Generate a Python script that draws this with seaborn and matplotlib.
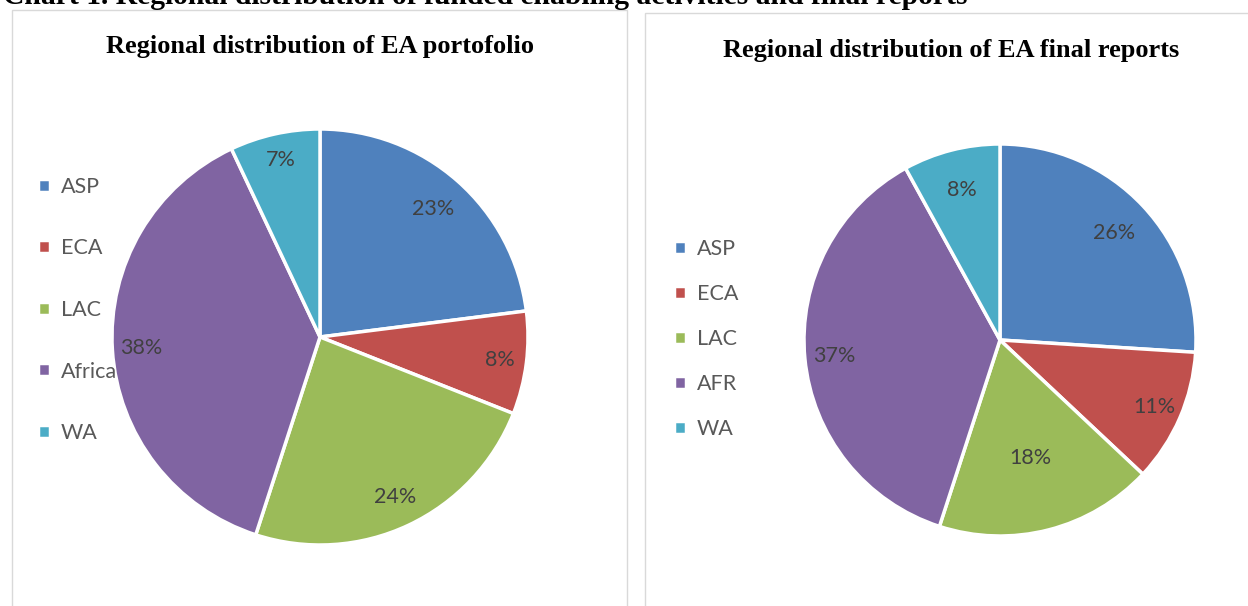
import matplotlib.pyplot as plt
import seaborn as sns
from matplotlib.patches import Rectangle
import numpy as np

sns.set_theme(style="white")
plt.rcParams['font.family'] = ['Lato', 'DejaVu Sans']

regions_left = ['ASP', 'ECA', 'LAC', 'Africa', 'WA']
share_left = [23, 8, 24, 38, 7]
regions_right = ['ASP', 'ECA', 'LAC', 'AFR', 'WA']
share_right = [26, 11, 18, 37, 8]

colors = ['#4F81BD', '#C0504D', '#9BBB59', '#8064A2', '#4BACC6']
W, H = 1248, 606

fig = plt.figure(figsize=(W / 100, H / 100), dpi=100)


def px_axes(cx, cy, r):
    return fig.add_axes([(cx - r) / W, (H - cy - r) / H, 2 * r / W, 2 * r / H])


def draw_pie(ax, values, labels, label_r, legend_center, spacing):
    wedges, _ = ax.pie(values, colors=colors, startangle=90, counterclock=False,
                       wedgeprops=dict(edgecolor='white', linewidth=2.5))
    for w, v, lr in zip(wedges, values, label_r):
        ang = np.deg2rad((w.theta1 + w.theta2) / 2)
        ax.text(lr * np.cos(ang), lr * np.sin(ang), f"{v}%", ha='center', va='center',
                fontsize=15.5, color='#404040')
    ax.set_xlim(-1, 1)
    ax.set_ylim(-1, 1)
    ax.set_aspect('equal')
    ax.axis('off')
    fig.legend(wedges, labels, loc='center left',
               bbox_to_anchor=(legend_center[0] / W, 1 - legend_center[1] / H),
               frameon=False, fontsize=15.5, labelcolor='#595959',
               handlelength=0.55, handleheight=0.55, handletextpad=0.5,
               labelspacing=spacing, borderpad=0, borderaxespad=0)


# panel frames
fig.add_artist(Rectangle((11.5 / W, -0.05), (627 - 11.5) / W, 1.05 - 10 / H,
                         transform=fig.transFigure, fill=False, edgecolor='#D9D9D9', lw=1))
fig.add_artist(Rectangle((645 / W, -0.05), 0.6, 1.05 - 13 / H,
                         transform=fig.transFigure, fill=False, edgecolor='#D9D9D9', lw=1))

ax1 = px_axes(320, 337, 208)
draw_pie(ax1, share_left, regions_left, [0.82, 0.87, 0.85, 0.86, 0.87], (38, 310), 1.93)

ax2 = px_axes(1000, 340, 196)
draw_pie(ax2, share_right, regions_right, [0.80, 0.86, 0.62, 0.85, 0.79], (674, 339), 1.16)

serif = ['Liberation Serif', 'DejaVu Serif']
fig.text(320 / W, 1 - 46 / H, "Regional distribution of EA portofolio", ha='center', va='center',
         fontsize=19, fontweight='bold', family=serif, color='black')
fig.text(951 / W, 1 - 50 / H, "Regional distribution of EA final reports", ha='center', va='center',
         fontsize=19, fontweight='bold', family=serif, color='black')
fig.text(3 / W, 1 - 4 / H, "Chart 1. Regional distribution of funded enabling activities and final reports",
         ha='left', va='baseline', fontsize=21.3, fontweight='bold', family=serif, color='black')

fig.savefig("out.png", dpi=100)
